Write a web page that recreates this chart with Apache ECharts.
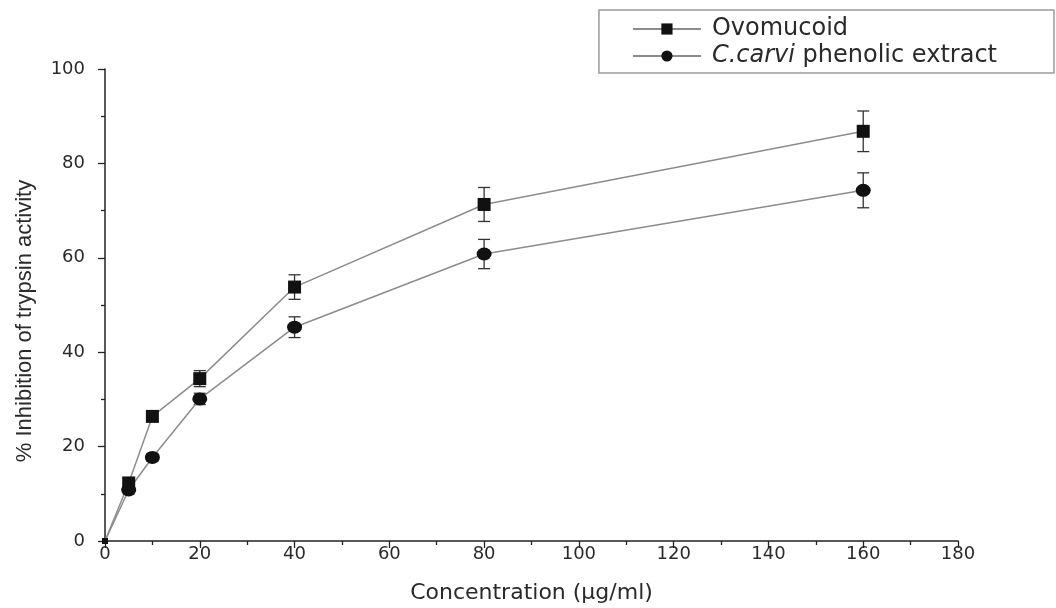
<!DOCTYPE html>
<html><head><meta charset="utf-8">
<script src="https://cdn.jsdelivr.net/npm/echarts@6/dist/echarts.min.js"></script>
<style>html,body{margin:0;padding:0;background:#fff}#c{width:1056px;height:608px}</style>
</head><body><div id="c"></div>
<script>
const concentrations = [0, 5, 10, 20, 40, 80, 160];
const ovomucoid = [0, 12.3, 26.4, 34.4, 53.8, 71.3, 86.8];
const ovomucoidErr = [0, 1.0, 1.0, 1.7, 2.6, 3.6, 4.3];
const carvi = [0, 10.8, 17.7, 30.1, 45.3, 60.8, 74.3];
const carviErr = [0, 0.8, 0.8, 1.2, 2.2, 3.1, 3.7];
const seriesNames = ['Ovomucoid', 'C.carvi phenolic extract'];
const xTitle = 'Concentration (\u03BCg/ml)';
const yTitle = '% Inhibition of trypsin activity';

const wide = '"DejaVu Sans", Verdana, sans-serif';
const narrow = '"Liberation Sans", Arial, sans-serif';
const chart = echarts.init(document.getElementById('c'));

function errData(vals, errs) {
  return concentrations.map((x, i) => [x, vals[i] - errs[i], vals[i] + errs[i]]);
}
function pointData(vals) {
  return concentrations.map((x, i) => x === 0 ? { value: [x, vals[i]], symbolSize: 6 } : [x, vals[i]]);
}
function errRender(params, api) {
  const x = api.value(0);
  const lo = api.coord([x, api.value(1)]);
  const hi = api.coord([x, api.value(2)]);
  if (Math.abs(lo[1] - hi[1]) < 1) return null;
  const w = 6;
  const st = { stroke: '#333', lineWidth: 1.3 };
  return { type: 'group', children: [
    { type: 'line', shape: { x1: lo[0], y1: lo[1], x2: hi[0], y2: hi[1] }, style: st },
    { type: 'line', shape: { x1: lo[0]-w, y1: lo[1], x2: lo[0]+w, y2: lo[1] }, style: st },
    { type: 'line', shape: { x1: hi[0]-w, y1: hi[1], x2: hi[0]+w, y2: hi[1] }, style: st }
  ]};
}

chart.setOption({
  animation: false,
  backgroundColor: '#fff',
  grid: { left: 105, right: 98, top: 69, bottom: 67, containLabel: false, outerBoundsMode: 'none' },
  legend: {
    orient: 'vertical', right: 2, top: 10,
    borderColor: '#9a9a9a', borderWidth: 1.5, borderRadius: 0,
    padding: [7, 57, 5, 33],
    itemWidth: 68, itemHeight: 14, itemGap: 3,
    data: seriesNames,
    formatter: n => n === 'C.carvi phenolic extract' ? '{i|C.carvi} phenolic extract' : n,
    textStyle: { fontFamily: wide, fontSize: 24, color: '#2a2a2a', padding: [0, 0, 0, 6],
      rich: { i: { fontStyle: 'italic', fontFamily: wide, fontSize: 24, color: '#2a2a2a' } } }
  },
  xAxis: {
    type: 'value', min: 0, max: 180, interval: 20,
    name: xTitle, nameLocation: 'middle', nameGap: 41,
    nameTextStyle: { fontFamily: wide, fontSize: 22, color: '#2a2a2a' },
    axisLine: { lineStyle: { color: '#222', width: 1.5 } },
    axisTick: { show: true, length: 7, lineStyle: { color: '#222', width: 1.3 } },
    minorTick: { show: true, splitNumber: 2, length: 4, lineStyle: { color: '#222', width: 1.3 } },
    axisLabel: { fontFamily: wide, fontSize: 18, color: '#2a2a2a', margin: 4 },
    splitLine: { show: false }
  },
  yAxis: {
    type: 'value', min: 0, max: 100, interval: 20,
    name: yTitle, nameLocation: 'middle', nameGap: 69, nameRotate: 90,
    nameTextStyle: { fontFamily: narrow, fontSize: 22, color: '#2a2a2a', padding: [0, 32, 0, 0] },
    axisLine: { show: true, lineStyle: { color: '#222', width: 1.5 } },
    axisTick: { show: true, length: 7, lineStyle: { color: '#222', width: 1.3 } },
    minorTick: { show: true, splitNumber: 2, length: 4, lineStyle: { color: '#222', width: 1.3 } },
    axisLabel: { fontFamily: wide, fontSize: 18, color: '#2a2a2a', margin: 20 },
    splitLine: { show: false }
  },
  series: [
    { name: seriesNames[0], type: 'line', data: pointData(ovomucoid),
      symbol: 'rect', symbolSize: 13, z: 3,
      lineStyle: { color: '#8c8c8c', width: 1.5 }, itemStyle: { color: '#111' } },
    { name: seriesNames[1], type: 'line', data: pointData(carvi),
      symbol: 'circle', symbolSize: [15, 13], z: 3,
      lineStyle: { color: '#8c8c8c', width: 1.5 }, itemStyle: { color: '#111' } },
    { type: 'custom', renderItem: errRender, data: errData(ovomucoid, ovomucoidErr), z: 2, silent: true },
    { type: 'custom', renderItem: errRender, data: errData(carvi, carviErr), z: 2, silent: true }
  ]
});
</script></body></html>
